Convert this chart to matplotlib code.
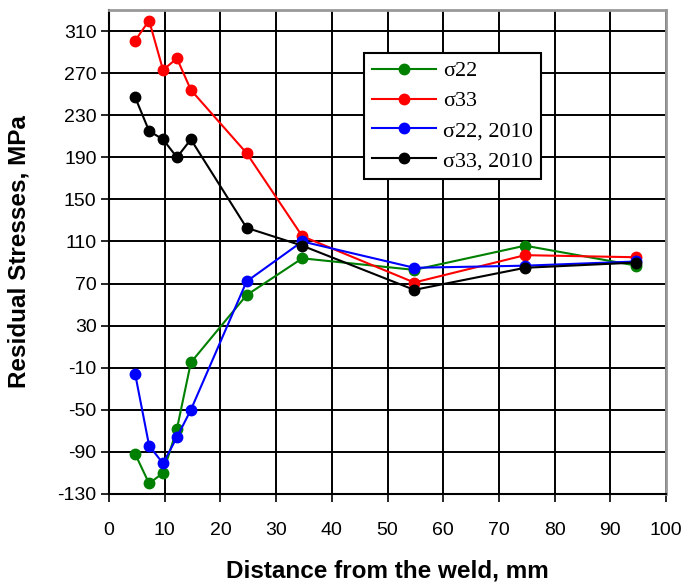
import matplotlib.pyplot as plt

plt.rcParams["axes.unicode_minus"] = False

x = [4.7, 7.2, 9.7, 12.2, 14.7, 24.7, 34.7, 54.8, 74.7, 94.7]
s22 = [-92, -120, -110, -68, -5, 59, 94, 83, 106, 87]
s33 = [301, 320, 273, 284, 254, 194, 115, 71, 97, 95]
s22_2010 = [-16, -84, -101, -76, -50, 72, 110, 85, 87, 91]
s33_2010 = [247, 215, 207, 190, 207, 123, 106, 64, 85, 90]

xticks = list(range(0, 101, 10))
yticks = list(range(-130, 311, 40))

fig = plt.figure(figsize=(6.83, 5.83), dpi=100)
ax = fig.add_axes([109 / 683, 1 - 494 / 583, 557 / 683, 484 / 583])

series = [(s22, "green", "σ22"), (s33, "red", "σ33"),
          (s22_2010, "blue", "σ22, 2010"), (s33_2010, "black", "σ33, 2010")]
for vals, c, lab in series:
    ax.plot(x, vals, color=c, lw=1.5, marker="o", ms=7.5, label=lab)

ax.set_xlim(0, 100)
ax.set_ylim(-130, 330)
ax.set_xticks(xticks)
ax.set_yticks(yticks)
ax.grid(True, color="black", lw=1.4)
ax.set_axisbelow(True)
for s in ["top", "right"]:
    ax.spines[s].set_color("#999999")
    ax.spines[s].set_linewidth(2)
for s in ["left", "bottom"]:
    ax.spines[s].set_linewidth(1.5)
ax.tick_params(direction="out", length=6, width=1.2, labelsize=14)
ax.tick_params(axis="x", pad=14)
ax.tick_params(axis="y", pad=3)
for t in ax.get_xticklabels() + ax.get_yticklabels():
    t.set_fontfamily("Liberation Sans")

ax.set_xlabel("Distance from the weld, mm", fontsize=17.5, fontweight="bold",
              fontfamily="Liberation Sans", labelpad=15)
ax.set_ylabel("Residual Stresses, MPa", fontsize=17.5, fontweight="bold",
              fontfamily="Liberation Sans", labelpad=19)

leg = ax.legend(loc="upper left", bbox_to_anchor=(0.458, 0.911),
                borderaxespad=0,
                prop={"family": "Liberation Serif", "size": 16},
                frameon=True, fancybox=False, edgecolor="black",
                framealpha=1, handlelength=2.9, borderpad=0.35,
                labelspacing=0.42, handletextpad=0.3)
leg.get_frame().set_linewidth(1.5)

fig.savefig("out.png", dpi=100)
